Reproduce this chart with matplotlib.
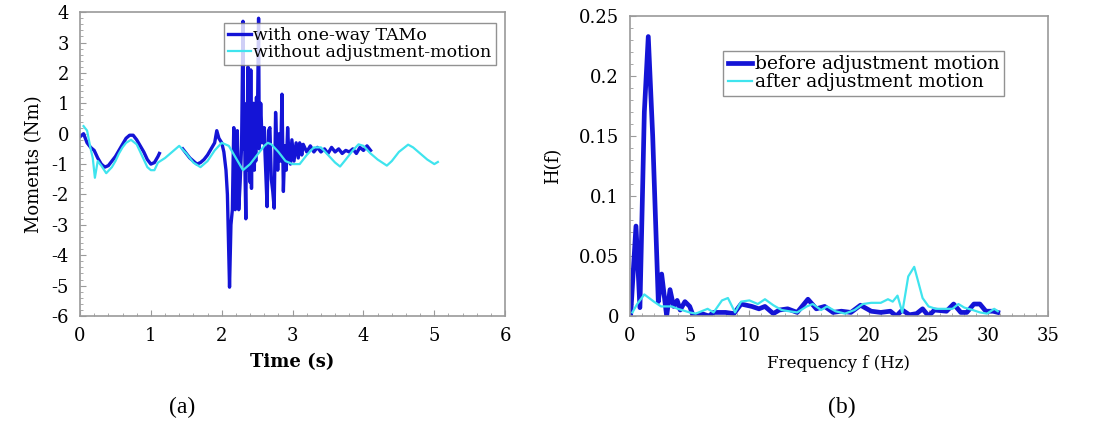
import numpy as np
import matplotlib.pyplot as plt
from matplotlib.ticker import AutoMinorLocator, MultipleLocator

plt.rcParams["font.family"] = ["DejaVu Serif"]

BLUE = "#1414d6"
CYAN = "#3fe4ee"

# (a) moments, with one-way TAMo (gap between 1.12 s and 1.45 s)
t_tamo = [0.0, 0.05, 0.1, 0.15, 0.2, 0.25, 0.3, 0.35, 0.4, 0.45, 0.5, 0.55,
          0.6, 0.65, 0.7, 0.75, 0.8, 0.85, 0.9, 0.95, 1.0, 1.05, 1.1, 1.12,
          1.3,
          1.45, 1.5, 1.55, 1.6, 1.65, 1.7, 1.75, 1.8, 1.85, 1.9, 1.93, 1.96,
          2.0, 2.03, 2.06, 2.08, 2.11, 2.13, 2.15, 2.16, 2.17, 2.19, 2.21,
          2.22, 2.24, 2.26, 2.28, 2.30, 2.31, 2.32, 2.33, 2.34, 2.35, 2.36,
          2.37, 2.38, 2.39, 2.40, 2.41, 2.42, 2.43, 2.44, 2.45, 2.46, 2.47,
          2.48, 2.49, 2.50, 2.52, 2.53, 2.55, 2.57, 2.60, 2.61, 2.64, 2.66,
          2.68, 2.70, 2.72, 2.74, 2.76, 2.79, 2.81, 2.83, 2.85, 2.87, 2.89,
          2.91, 2.93, 2.95, 2.97, 2.99, 3.02, 3.05, 3.08, 3.1, 3.13, 3.15,
          3.2, 3.25, 3.3, 3.35, 3.4, 3.45, 3.5, 3.55, 3.6, 3.65, 3.7, 3.75,
          3.8, 3.85, 3.9, 3.95, 4.0, 4.05, 4.1]
m_tamo = [-0.1, 0.0, -0.3, -0.45, -0.55, -0.8, -1.0, -1.1, -1.05, -0.9,
          -0.75, -0.55, -0.35, -0.15, -0.05, -0.05, -0.2, -0.4, -0.6, -0.85,
          -1.0, -0.95, -0.75, -0.65,
          np.nan,
          -0.5, -0.65, -0.8, -0.9, -1.0, -0.95, -0.85, -0.7, -0.5, -0.3, 0.1,
          -0.15,
          -0.3, -0.6, -1.2, -2.0, -5.05, -3.0, -2.5, -1.0, 0.2, -2.5, -1.5,
          0.1, -2.5, -1.6, -0.4, 3.7, -0.5, 1.0, -1.5, -2.8, 0.8, -1.2,
          2.2, -0.8, 1.0, -1.6, 2.1, -1.8, 0.9, -0.6, 1.0, -1.2, 0.5,
          -0.9, 1.2, -0.3, 3.8, -0.5, 1.0, -0.3, 0.2, -0.6, -2.4, 0.1,
          0.2, -1.5, -1.9, -2.45, 0.7, -1.2, 0.0, -0.9, 1.3, -1.9, -0.4,
          -1.2, 0.2, -0.8, -1.0, -0.2, -0.9, -0.3, -0.8, -0.3, -0.7, -0.35,
          -0.6, -0.4, -0.6, -0.45, -0.6, -0.5, -0.65, -0.45, -0.6, -0.5, -0.65,
          -0.55, -0.6, -0.5, -0.65, -0.45, -0.55, -0.4, -0.55]

# (a) moments, without adjustment-motion
t_free = [0.05, 0.1, 0.15, 0.18, 0.21, 0.25, 0.3, 0.37, 0.45, 0.5, 0.55,
          0.6, 0.65, 0.72, 0.8, 0.85, 0.9, 0.95, 1.0, 1.05, 1.1, 1.2, 1.3,
          1.4, 1.5, 1.6, 1.7, 1.8, 1.9, 2.0, 2.1, 2.2, 2.3, 2.4, 2.5, 2.6,
          2.65, 2.7, 2.8, 2.9, 3.0, 3.1, 3.2, 3.3, 3.4, 3.5, 3.6, 3.67, 3.75,
          3.85, 3.93, 4.0, 4.1, 4.2, 4.33, 4.4, 4.5, 4.63, 4.7, 4.8, 4.9,
          5.0, 5.05]
m_free = [0.25, 0.1, -0.5, -0.8, -1.45, -0.9, -1.05, -1.3, -1.1, -0.9,
          -0.65, -0.45, -0.3, -0.2, -0.35, -0.6, -0.85, -1.1, -1.2, -1.2,
          -0.95, -0.8, -0.6, -0.4, -0.65, -0.95, -1.1, -0.9, -0.55, -0.3,
          -0.4, -0.8, -1.2, -1.0, -0.7, -0.4, -0.3, -0.35, -0.6, -0.9, -1.0,
          -1.0, -0.7, -0.45, -0.45, -0.7, -0.95, -1.08, -0.85, -0.55, -0.35,
          -0.4, -0.65, -0.85, -1.05, -0.9, -0.6, -0.36, -0.45, -0.65, -0.85,
          -1.0, -0.93]

# (b) spectrum, before adjustment motion
f_before = [0.05, 0.5, 0.83, 1.2, 1.53, 1.9, 2.37, 2.65, 3.07, 3.35, 3.65,
            3.95, 4.2, 4.6, 5.0, 5.3, 6.0, 6.6, 7.0, 8.0, 8.7, 9.3, 10.2,
            10.8, 11.3, 12.0, 12.5, 13.2, 14.0, 14.9, 15.6, 16.3, 17.0, 17.7,
            18.5, 19.3, 20.2, 21.0, 21.8, 22.3, 22.8, 23.4, 24.0, 24.5, 25.0,
            25.5, 26.5, 27.1, 27.7, 28.2, 28.8, 29.3, 29.8, 30.4, 30.8]
h_before = [0.0, 0.075, 0.007, 0.17, 0.233, 0.15, 0.012, 0.035, 0.0, 0.022,
            0.008, 0.013, 0.005, 0.012, 0.008, 0.0, 0.002, 0.0, 0.003, 0.003,
            0.002, 0.01, 0.008, 0.006, 0.008, 0.002, 0.005, 0.006, 0.003,
            0.014, 0.006, 0.008, 0.003, 0.004, 0.003, 0.009, 0.004, 0.003,
            0.004, 0.0, 0.005, 0.001, 0.002, 0.006, 0.0, 0.005, 0.004, 0.01,
            0.003, 0.003, 0.01, 0.01, 0.004, 0.004, 0.003]

# (b) spectrum, after adjustment motion
f_after = [0.2, 0.6, 1.2, 2.0, 2.6, 3.5, 4.0, 5.0, 5.5, 6.5, 7.0, 7.7, 8.2,
           8.8, 9.3, 10.0, 10.7, 11.3, 12.0, 12.7, 13.3, 14.0, 14.8, 15.3,
           16.0, 16.5, 17.2, 18.0, 18.8, 19.5, 20.2, 21.0, 21.6, 22.0, 22.4,
           22.8, 23.3, 23.8, 24.5, 25.0, 25.6, 26.5, 27.0, 27.5, 28.0, 28.7,
           29.3, 29.9, 30.5, 30.8]
h_after = [0.003, 0.01, 0.018, 0.012, 0.008, 0.008, 0.006, 0.003, 0.002,
           0.006, 0.003, 0.013, 0.015, 0.003, 0.012, 0.013, 0.01, 0.014,
           0.009, 0.005, 0.004, 0.003, 0.008, 0.01, 0.005, 0.008, 0.004,
           0.002, 0.005, 0.01, 0.011, 0.011, 0.014, 0.012, 0.017, 0.003,
           0.033, 0.041, 0.015, 0.008, 0.006, 0.006, 0.006, 0.01, 0.007,
           0.005, 0.003, 0.002, 0.006, 0.004]

fig = plt.figure(figsize=(10.93, 4.41), dpi=100)
ax1 = fig.add_axes([0.0732, 0.2834, 0.389, 0.689])
ax2 = fig.add_axes([0.5764, 0.2834, 0.3824, 0.680])

ax1.plot(t_tamo, m_tamo, color=BLUE, lw=2.4, label="with one-way TAMo",
         zorder=2)
ax1.plot(t_free, m_free, color=CYAN, lw=1.6,
         label="without adjustment-motion", zorder=3)
ax1.set_xlim(0, 6)
ax1.set_ylim(-6, 4)
ax1.xaxis.set_major_locator(MultipleLocator(1))
ax1.yaxis.set_major_locator(MultipleLocator(1))
ax1.set_yticklabels([f"{v:g}" for v in ax1.get_yticks()])
ax1.set_xlabel("Time (s)", fontsize=13, fontweight="bold", labelpad=6)
ax1.set_ylabel("Moments (Nm)", fontsize=13, labelpad=6)

ax2.plot(f_before, h_before, color=BLUE, lw=3.4,
         label="before adjustment motion", zorder=2)
ax2.plot(f_after, h_after, color=CYAN, lw=1.6,
         label="after adjustment motion", zorder=3)
ax2.set_xlim(0, 35)
ax2.set_ylim(0, 0.25)
ax2.xaxis.set_major_locator(MultipleLocator(5))
ax2.yaxis.set_major_locator(MultipleLocator(0.05))
ax2.set_yticklabels([f"{v:g}" for v in ax2.get_yticks()])
ax2.set_xlabel("Frequency f (Hz)", fontsize=12, labelpad=7)
ax2.set_ylabel("H(f)", fontsize=13, labelpad=12)

for ax in (ax1, ax2):
    ax.xaxis.set_minor_locator(AutoMinorLocator(5))
    ax.yaxis.set_minor_locator(AutoMinorLocator(5))
    ax.tick_params(which="both", direction="in", color="#9a9a9a",
                   labelsize=13, pad=8)
    ax.tick_params(which="major", length=4)
    ax.tick_params(which="minor", length=2)
    for sp in ax.spines.values():
        sp.set_color("#9a9a9a")
        sp.set_linewidth(1.2)

leg_kw = dict(frameon=True, fancybox=False, edgecolor="#777777",
              borderpad=0.25, handlelength=1.3, handletextpad=0.15,
              labelspacing=0.0, borderaxespad=0)
ax1.legend(loc="upper right", bbox_to_anchor=(0.978, 0.965),
           prop={"size": 12.5}, **leg_kw)
ax2.legend(loc="upper right", bbox_to_anchor=(0.895, 0.885),
           prop={"size": 13.5}, **leg_kw)

fig.text(0.167, 0.075, "(a)", fontsize=17, ha="center", va="center",
         family="Liberation Serif")
fig.text(0.770, 0.075, "(b)", fontsize=17, ha="center", va="center",
         family="Liberation Serif")

fig.savefig("out.png", dpi=100)
